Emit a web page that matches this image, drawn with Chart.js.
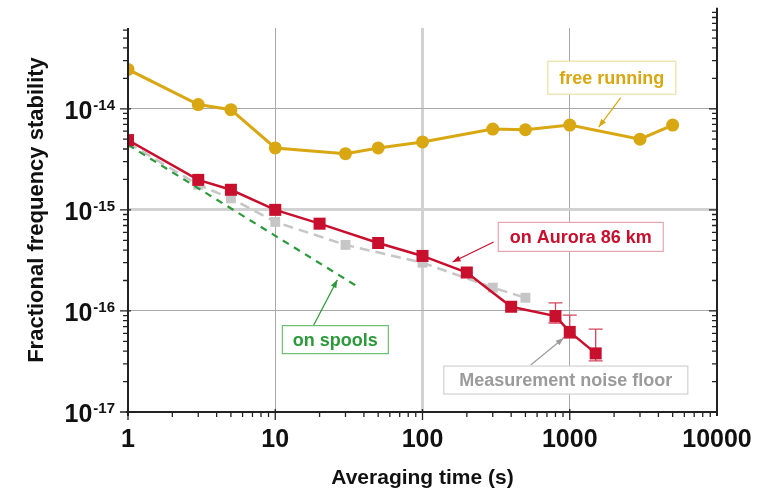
<!DOCTYPE html>
<html>
<head>
<meta charset="utf-8">
<script src="https://cdn.jsdelivr.net/npm/chart.js@4"></script>
<style>
  html, body { margin: 0; padding: 0; background: #fff; }
</style>
</head>
<body>
<canvas id="myChart" width="766" height="493"></canvas>
<script>
// averaging time (s) vs fractional frequency stability
const freeTimes = [1, 3, 5, 10, 30, 50, 100, 300, 500, 1000, 3000, 5000];
const freeValues = [2.45e-14, 1.1e-14, 9.8e-15, 4.1e-15, 3.6e-15, 4.1e-15, 4.7e-15, 6.3e-15, 6.2e-15, 6.9e-15, 5.0e-15, 6.9e-15];

const auroraTimes = [1, 3, 5, 10, 20, 50, 100, 200, 400, 800, 1000, 1500];
const auroraValues = [4.9e-15, 1.98e-15, 1.58e-15, 1.0e-15, 7.3e-16, 4.7e-16, 3.5e-16, 2.4e-16, 1.1e-16, 8.9e-17, 6.2e-17, 3.8e-17];
// error bars only on the last three points
const auroraErrHigh = [null, null, null, null, null, null, null, null, null, 1.2e-16, 9.1e-17, 6.6e-17];
const auroraErrLow = [null, null, null, null, null, null, null, null, null, 7.6e-17, 5.4e-17, 3.2e-17];

const noiseTimes = [1, 3, 5, 10, 30, 100, 300, 500];
const noiseValues = [4.6e-15, 1.77e-15, 1.3e-15, 7.6e-16, 4.5e-16, 3.0e-16, 1.7e-16, 1.35e-16];

const spoolTimes = [1, 36];
const spoolValues = [4.4e-15, 1.75e-16];

const xTickLabels = [1, 10, 100, 1000, 10000];
const yTickExps = [-14, -15, -16, -17];

const gold = '#d8a712';
const red = '#c8102e';
const green = '#2c9a3a';
const grayMark = '#c6c6c6';
const FONT = '"Liberation Sans", Arial, sans-serif';

const toPoints = (xs, ys) => xs.map((x, i) => ({ x: x, y: ys[i] }));
const isPow10 = v => Math.abs(Math.log10(v) - Math.round(Math.log10(v))) < 1e-6;

// error bars under the red squares
const errorBars = {
    id: 'errorBars',
    beforeDatasetsDraw(chart) {
        const xs = chart.scales.x, ys = chart.scales.y, c = chart.ctx;
        c.save();
        c.strokeStyle = '#d0485c';
        c.lineWidth = 1.3;
        auroraTimes.forEach((t, i) => {
            if (auroraErrHigh[i] == null) return;
            const px = xs.getPixelForValue(t);
            const top = ys.getPixelForValue(auroraErrHigh[i]);
            const bot = ys.getPixelForValue(auroraErrLow[i]);
            c.beginPath();
            c.moveTo(px, top); c.lineTo(px, bot);
            c.moveTo(px - 7, top); c.lineTo(px + 7, top);
            c.moveTo(px - 7, bot); c.lineTo(px + 7, bot);
            c.stroke();
        });
        c.restore();
    }
};

// axis lines, tick marks and the 10^n labels
const axisFrame = {
    id: 'axisFrame',
    afterDatasetsDraw(chart) {
        const xs = chart.scales.x, ys = chart.scales.y, c = chart.ctx;
        const { left, right, top, bottom } = chart.chartArea;
        const rightTop = ys.getPixelForValue(1e-13);
        c.save();
        c.strokeStyle = '#222';
        c.lineWidth = 2;
        c.beginPath();
        c.moveTo(left, top); c.lineTo(left, bottom + 4);
        c.moveTo(left - 2, bottom); c.lineTo(right + 1, bottom);
        c.moveTo(right, rightTop); c.lineTo(right, bottom + 4);
        c.stroke();

        c.lineWidth = 1.3;
        c.beginPath();
        for (let e = -17; e < -13; e++) {
            for (let m = 1; m < 10; m++) {
                const v = m * Math.pow(10, e);
                const py = ys.getPixelForValue(v);
                const major = m === 1;
                if (py >= top - 0.5) {
                    c.moveTo(left - (major ? 8 : 5), py); c.lineTo(left + (major ? 3 : 0), py);
                }
                if (py >= rightTop - 0.5) {
                    c.moveTo(right - (major ? 8 : 5), py); c.lineTo(right, py);
                }
            }
        }
        for (let e = 0; e < 4; e++) {
            for (let m = 1; m < 10; m++) {
                const px = xs.getPixelForValue(m * Math.pow(10, e));
                const major = m === 1;
                c.moveTo(px, bottom - (major ? 3 : 0)); c.lineTo(px, bottom + (major ? 8 : 5));
            }
        }
        c.stroke();

        // y tick labels 10^-n
        c.fillStyle = '#111';
        c.textBaseline = 'alphabetic';
        yTickExps.forEach(e => {
            const py = ys.getPixelForValue(Math.pow(10, e));
            const sup = String(e);
            c.font = 'bold 15px ' + FONT;
            const supW = c.measureText(sup).width;
            const edge = left - 13;
            c.textAlign = 'left';
            c.fillText(sup, edge - supW, py + 1);
            c.font = 'bold 25px ' + FONT;
            c.textAlign = 'right';
            c.fillText('10', edge - supW - 1, py + 10);
        });

        // y axis title
        c.translate(37, 210);
        c.rotate(-Math.PI / 2);
        c.font = 'bold 22px ' + FONT;
        c.textAlign = 'center';
        c.textBaseline = 'middle';
        c.fillText('Fractional frequency stability', 0, 0);
        c.restore();
    }
};

// boxed labels with arrows, anchored in data coordinates
const notes = [
    { text: 'free running', color: gold, border: '#e9e0a6', at: [1930, 2.03e-14], w: 128, h: 33, from: [2220, 1.29e-14], to: [1575, 6.6e-15] },
    { text: 'on Aurora 86 km', color: red, border: '#e8a4ae', at: [1188, 5.4e-16], w: 165, h: 29, from: [304, 4.8e-16], to: [160, 3.05e-16] },
    { text: 'on spools', color: green, border: '#6cbf74', at: [25.6, 5.2e-17], w: 106, h: 28, from: [18.1, 7.1e-17], to: [26.4, 2.03e-16] },
    { text: 'Measurement noise floor', color: '#9b9b9b', border: '#d2d2d2', at: [940, 2.07e-17], w: 244, h: 28, from: [543, 2.92e-17], to: [910, 5.4e-17] }
];

const annotations = {
    id: 'annotations',
    afterDraw(chart) {
        const xs = chart.scales.x, ys = chart.scales.y, c = chart.ctx;
        c.save();
        notes.forEach(n => {
            const fx = xs.getPixelForValue(n.from[0]), fy = ys.getPixelForValue(n.from[1]);
            const tx = xs.getPixelForValue(n.to[0]), ty = ys.getPixelForValue(n.to[1]);
            c.strokeStyle = n.color;
            c.fillStyle = n.color;
            c.lineWidth = 1.2;
            c.beginPath(); c.moveTo(fx, fy); c.lineTo(tx, ty); c.stroke();
            const ang = Math.atan2(ty - fy, tx - fx);
            c.beginPath();
            c.moveTo(tx, ty);
            c.lineTo(tx - 8 * Math.cos(ang) + 3 * Math.sin(ang), ty - 8 * Math.sin(ang) - 3 * Math.cos(ang));
            c.lineTo(tx - 8 * Math.cos(ang) - 3 * Math.sin(ang), ty - 8 * Math.sin(ang) + 3 * Math.cos(ang));
            c.closePath(); c.fill();

            const cx = xs.getPixelForValue(n.at[0]), cy = ys.getPixelForValue(n.at[1]);
            c.fillStyle = '#fff';
            c.fillRect(cx - n.w / 2, cy - n.h / 2, n.w, n.h);
            c.strokeStyle = n.border;
            c.lineWidth = 1.2;
            c.strokeRect(cx - n.w / 2, cy - n.h / 2, n.w, n.h);
            c.fillStyle = n.color;
            c.font = 'bold 18px ' + FONT;
            c.textAlign = 'center';
            c.textBaseline = 'middle';
            c.fillText(n.text, cx, cy + 1);
        });
        c.restore();
    }
};

const ctx = document.getElementById('myChart');
const myChart = new Chart(ctx, {
    type: 'line',
    data: {
        datasets: [{
            label: 'free running',
            data: toPoints(freeTimes, freeValues),
            borderColor: gold,
            backgroundColor: gold,
            borderWidth: 3,
            pointStyle: 'circle',
            pointRadius: 6.5,
            pointBorderWidth: 0
        },
        {
            label: 'on Aurora 86 km',
            data: toPoints(auroraTimes, auroraValues),
            borderColor: red,
            backgroundColor: red,
            borderWidth: 2.5,
            pointStyle: 'rect',
            pointRadius: 8.5,
            pointBorderWidth: 0
        },
        {
            label: 'on spools',
            data: toPoints(spoolTimes, spoolValues),
            borderColor: green,
            borderWidth: 2.2,
            borderDash: [7, 6],
            pointRadius: 0
        },
        {
            label: 'Measurement noise floor',
            data: toPoints(noiseTimes, noiseValues),
            borderColor: grayMark,
            backgroundColor: grayMark,
            borderWidth: 2.5,
            borderDash: [10, 6],
            pointStyle: 'rect',
            pointRadius: 7,
            pointBorderWidth: 0
        }]
    },
    options: {
        responsive: false,
        animation: false,
        layout: { padding: { left: 0, right: 49, top: 28, bottom: 0 } },
        plugins: {
            legend: { display: false },
            tooltip: { enabled: false }
        },
        scales: {
            x: {
                type: 'logarithmic',
                min: 1,
                max: 10000,
                afterFit: s => { s.height = 81; s.paddingLeft = 0; s.paddingRight = 0; },
                border: { display: false },
                grid: {
                    drawTicks: false,
                    color: g => (isPow10(g.tick.value) && g.tick.value > 1 && g.tick.value < 10000) ? (g.tick.value === 100 ? '#d2d2d2' : '#a9a9a9') : 'rgba(0,0,0,0)',
                    lineWidth: g => g.tick.value === 100 ? 3 : 1
                },
                ticks: {
                    autoSkip: false,
                    maxRotation: 0,
                    padding: 13,
                    color: '#111',
                    font: { family: FONT, size: 25, weight: 'bold' },
                    callback: v => xTickLabels.includes(v) ? String(v) : ''
                },
                title: {
                    display: true,
                    text: 'Averaging time (s)',
                    color: '#111',
                    font: { family: FONT, size: 21, weight: 'bold' },
                    padding: { top: 0, bottom: 2 }
                }
            },
            y: {
                type: 'logarithmic',
                min: 1e-17,
                max: 6.3e-14,
                afterFit: s => { s.width = 128; s.paddingTop = 0; s.paddingBottom = 0; },
                border: { display: false },
                grid: {
                    drawTicks: false,
                    color: g => (isPow10(g.tick.value) && g.tick.value > 2e-17) ? (Math.round(Math.log10(g.tick.value)) === -15 ? '#d2d2d2' : '#a9a9a9') : 'rgba(0,0,0,0)',
                    lineWidth: g => Math.round(Math.log10(g.tick.value)) === -15 ? 3 : 1
                },
                ticks: { display: false }
            }
        }
    },
    plugins: [errorBars, axisFrame, annotations]
});
</script>
</body>
</html>
